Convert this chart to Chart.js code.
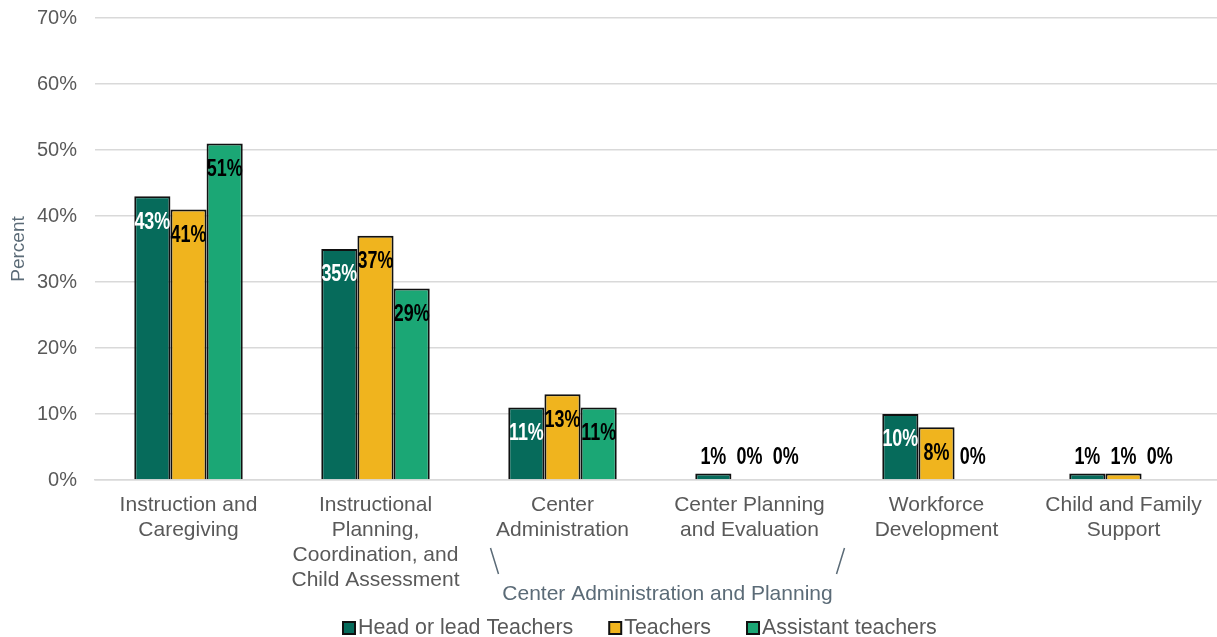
<!DOCTYPE html>
<html>
<head>
<meta charset="utf-8">
<script src="https://cdn.jsdelivr.net/npm/chart.js@4.4.1/dist/chart.umd.min.js"></script>
<style>
  html, body { margin: 0; padding: 0; background: #fff; }
  #wrap { width: 1217px; height: 637px; position: relative; }
</style>
</head>
<body>
<div id="wrap"><canvas id="chart"></canvas></div>
<script>
const categories = [
    ['Instruction and', 'Caregiving'],
    ['Instructional', 'Planning,', 'Coordination, and', 'Child Assessment'],
    ['Center', 'Administration'],
    ['Center Planning', 'and Evaluation'],
    ['Workforce', 'Development'],
    ['Child and Family', 'Support']
];
const headTeachers = [43, 35, 11, 1, 10, 1];
const teachers = [41, 37, 13, 0, 8, 1];
const assistantTeachers = [51, 29, 11, 0, 0, 0];
const seriesNames = ['Head or lead Teachers', 'Teachers', 'Assistant teachers'];
const seriesColors = ['#066b5b', '#f0b41e', '#1ba775'];
const labelColors = ['#ffffff', '#000000', '#000000'];
const groupLabel = 'Center Administration and Planning';

const FONT = "'Liberation Sans', Arial, sans-serif";

// value labels: inside top of tall bars, above the baseline for small ones
const valueLabels = {
    id: 'valueLabels',
    afterDatasetsDraw: (chart) => {
        const ctx = chart.ctx;
        const y = chart.scales.y;
        ctx.save();
        ctx.font = 'bold 23px ' + FONT;
        ctx.textAlign = 'center';
        ctx.textBaseline = 'middle';
        chart.data.datasets.forEach((ds, i) => {
            chart.getDatasetMeta(i).data.forEach((bar, j) => {
                const v = ds.data[j];
                let ty;
                if (v >= 5) {
                    ty = bar.y + 26;
                    ctx.fillStyle = labelColors[i];
                } else {
                    ty = y.getPixelForValue(0) - 22;
                    ctx.fillStyle = '#000000';
                }
                // squeeze horizontally to look like a narrow bold face
                ctx.save();
                ctx.translate(bar.x, ty);
                ctx.scale(0.78, 1);
                ctx.fillText(v + '%', 0, 0);
                ctx.restore();
            });
        });
        ctx.restore();
    }
};

// bracket text under the two center categories + legend row
const extras = {
    id: 'extras',
    afterDraw: (chart) => {
        const ctx = chart.ctx;
        const x = chart.scales.x;
        const left = x.getPixelForValue(2) - 68;
        const right = x.getPixelForValue(3) + 91;
        ctx.save();
        ctx.strokeStyle = '#5b6b77';
        ctx.lineWidth = 1.5;
        ctx.beginPath();
        ctx.moveTo(left - 4, 548);
        ctx.lineTo(left + 4, 574);
        ctx.moveTo(right + 4, 548);
        ctx.lineTo(right - 4, 574);
        ctx.stroke();
        ctx.fillStyle = '#5b6b77';
        ctx.font = '21px ' + FONT;
        ctx.textAlign = 'center';
        ctx.textBaseline = 'middle';
        ctx.fillText(groupLabel, (left + right) / 2, 594);

        // legend
        ctx.font = '21.4px ' + FONT;
        ctx.textAlign = 'left';
        let lx = 343;
        const ly = 628;
        chart.data.datasets.forEach((ds, i) => {
            ctx.fillStyle = ds.backgroundColor;
            ctx.fillRect(lx, ly - 6, 12, 12);
            ctx.strokeStyle = '#111111';
            ctx.lineWidth = 2;
            ctx.strokeRect(lx, ly - 6, 12, 12);
            ctx.fillStyle = '#595959';
            ctx.fillText(ds.label, lx + 15, ly);
            lx += 15 + ctx.measureText(ds.label).width + 36;
        });
        ctx.restore();
    }
};

const datasets = [headTeachers, teachers, assistantTeachers].map((data, i) => ({
    label: seriesNames[i],
    data: data,
    backgroundColor: seriesColors[i],
    borderColor: '#111111',
    borderWidth: 2,
    borderSkipped: 'bottom',
    categoryPercentage: 0.58,
    barPercentage: 1.0
}));

new Chart(document.getElementById('chart'), {
    type: 'bar',
    data: { labels: categories, datasets },
    plugins: [valueLabels, extras],
    options: {
        responsive: true,
        maintainAspectRatio: false,
        animation: false,
        layout: { padding: { top: 18, right: 0, left: 0, bottom: 0 } },
        plugins: {
            tooltip: { enabled: false },
            legend: { display: false }
        },
        scales: {
            x: {
                grid: { display: false, drawTicks: false },
                border: { color: '#d9d9d9', width: 1.5 },
                ticks: {
                    color: '#595959',
                    font: { family: FONT, size: 21, lineHeight: 1.19 },
                    maxRotation: 0,
                    autoSkip: false,
                    padding: 13
                },
                afterFit: (scale) => { scale.height = 157; }
            },
            y: {
                min: 0,
                max: 70,
                ticks: {
                    stepSize: 10,
                    color: '#595959',
                    font: { family: FONT, size: 20 },
                    padding: 18,
                    callback: (v) => v + '%'
                },
                grid: { color: '#d9d9d9', lineWidth: 1.5, drawTicks: false },
                border: { display: false },
                title: {
                    display: true,
                    text: 'Percent',
                    color: '#5b6b77',
                    font: { family: FONT, size: 19 },
                    padding: { top: 7, bottom: 0 }
                },
                afterFit: (scale) => {
                    scale.width = 95;
                    scale.paddingTop = 0;
                }
            }
        }
    }
});
</script>
</body>
</html>
